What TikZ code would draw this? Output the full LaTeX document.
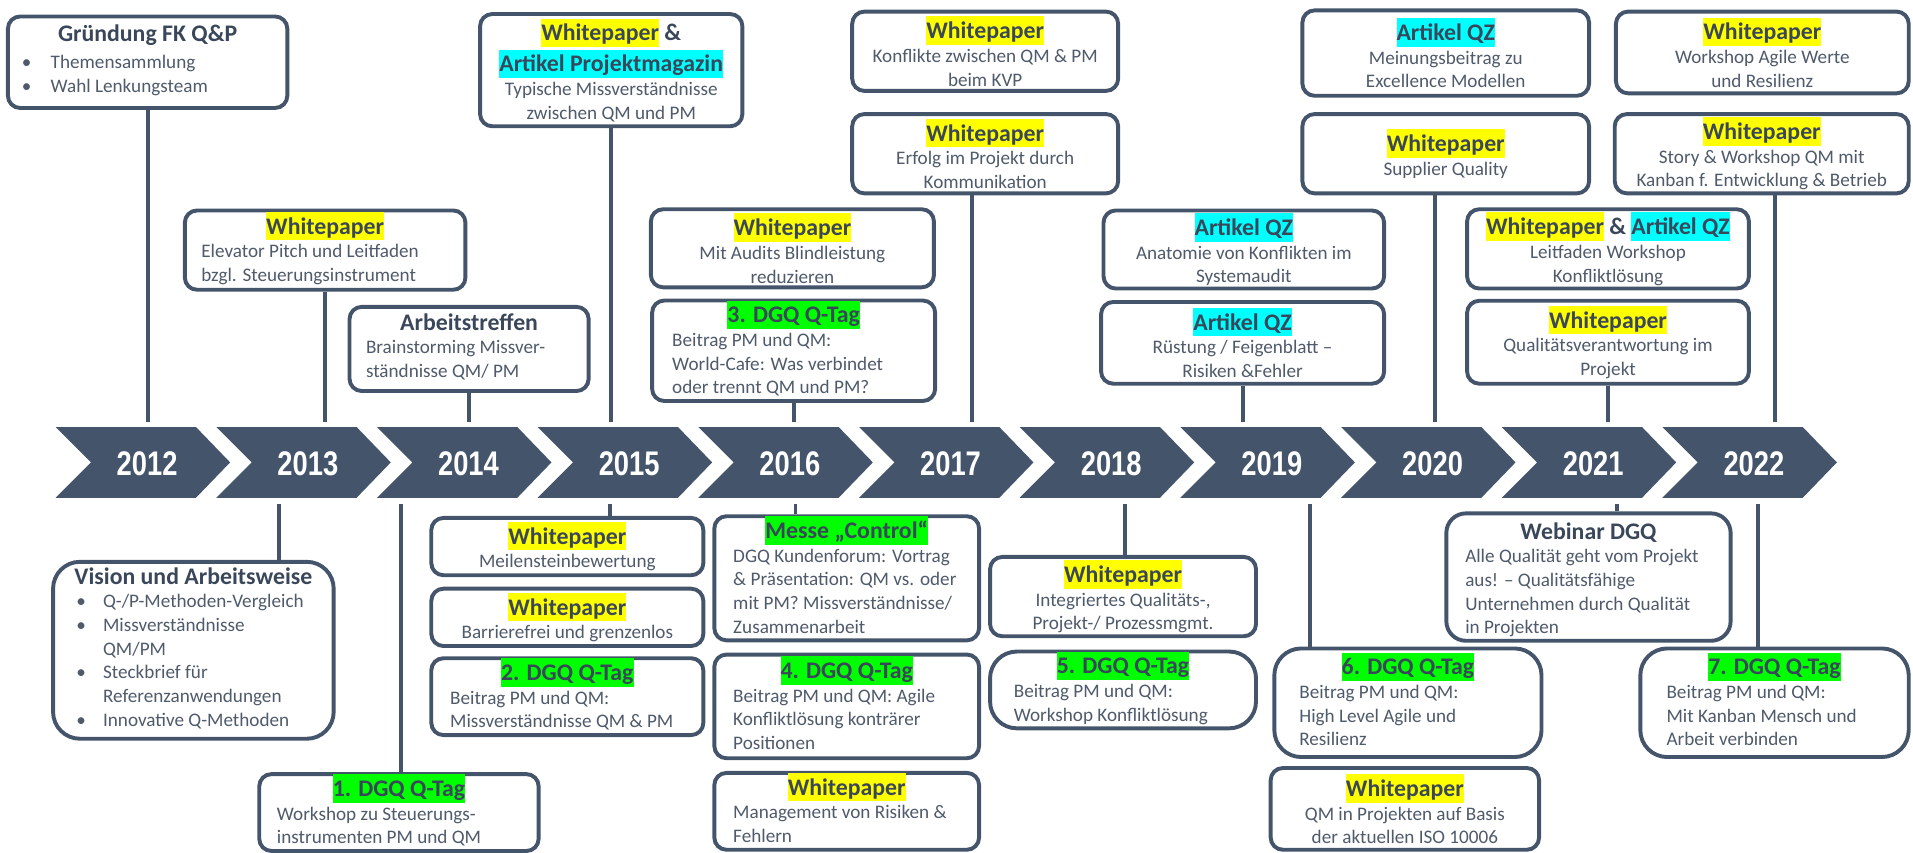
\documentclass[tikz,border=0pt]{standalone}
\usepackage{fontspec}
\usepackage{array}
\setmainfont{Carlito}
\newfontfamily\yearfont[FakeStretch=0.8]{Liberation Sans}
\definecolor{slate}{HTML}{44546A}
\definecolor{headcol}{HTML}{3A475A}
\definecolor{bodycol}{HTML}{4F5A6B}
\definecolor{wpyellow}{HTML}{FFFF00}
\definecolor{qzcyan}{HTML}{00FFFF}
\definecolor{qgreen}{HTML}{00FF00}
\setlength{\fboxsep}{0pt}
\newcommand{\boxhead}[1]{{\fontsize{19.5}{23}\selectfont\bfseries\color{headcol}#1}}
\newcommand{\hilite}[2]{\colorbox{#1}{\rule[-0.26em]{0pt}{1.2em}#2}}
\newcommand{\whp}{\hilite{wpyellow}{Whitepaper}}
\newcommand{\artqz}{\hilite{qzcyan}{Artikel QZ}}
\newcommand{\lft}[2]{\begin{tabular}[t]{@{}w{l}{#1}@{}}#2\end{tabular}}

\begin{document}
\begin{tikzpicture}[x=1pt,y=-1pt,
  box/.style={draw=slate,line width=3.2pt,rounded corners=10pt,fill=white,inner sep=0pt,
    align=center,text=bodycol,font=\fontsize{15.7}{19.4}\selectfont},
  round/.style={rounded corners=22pt},
  conn/.style={draw=slate,line width=3.2pt},
  chev/.style={fill=slate},
  year/.style={text=white,font=\yearfont\bfseries\fontsize{28}{28}\selectfont}]
\useasboundingbox (0,0) rectangle (1568,699);
\coordinate (topline) at (0,346);
\coordinate (botline) at (0,413);

\foreach \yr [count=\i from 0] in {2012,...,2022} {
  \pgfmathsetmacro\L{45.6+131.7*\i}
  \fill[chev] (\L,350) -- (\L+115,350) -- (\L+143,379) -- (\L+115,408) -- (\L,408) -- (\L+29,379) -- cycle;
  \node[year] (y\yr) at (\L+75,380) {\yr};
}

% oben
\node[box,minimum width=229pt,minimum height=75pt] (gruendung) at (121,51)
  {\boxhead{Gründung FK Q\&P}\\[3pt] \begin{tabular}[t]{@{}p{23.6pt}@{}p{182.4pt}@{}}\textbullet & Themensammlung\\ \textbullet & Wahl Lenkungsteam\end{tabular}};
\node[box,minimum width=230pt,minimum height=65pt] (elevator) at (266.5,205)
  {\boxhead{\whp}\\ \lft{203pt}{Elevator Pitch und Leitfaden\\ bzgl. Steuerungsinstrument}};
\node[box,minimum width=196pt,minimum height=69pt] (arbeit) at (384.5,286)
  {\boxhead{Arbeitstreffen}\\ \lft{169pt}{Brainstorming Missver-\\ ständnisse QM/ PM}};
\node[box,minimum width=215pt,minimum height=92pt] (typisch) at (501,57.5)
  {\boxhead{\whp{} \&}\\[1pt] \boxhead{\hilite{qzcyan}{Artikel Projektmagazin}}\\ Typische Missverständnisse\\ zwischen QM und PM};
\node[box,minimum width=232pt,minimum height=64pt] (audits) at (649.5,203.5)
  {\boxhead{\whp}\\ Mit Audits Blindleistung\\ reduzieren};
\node[box,minimum width=232pt,minimum height=80pt] (qtag3) at (650.5,287.5)
  {\boxhead{\hilite{qgreen}{3. DGQ Q-Tag}}\\ \lft{199pt}{Beitrag PM und QM:\\ World-Cafe: Was verbindet\\ oder trennt QM und PM?}};
\node[box,minimum width=218pt,minimum height=65pt] (kvp) at (807.5,42)
  {\boxhead{\whp}\\ Konflikte zwischen QM \& PM\\ beim KVP};
\node[box,minimum width=218pt,minimum height=65pt] (kommunikation) at (807.5,126)
  {\boxhead{\whp}\\ Erfolg im Projekt durch\\ Kommunikation};
\node[box,minimum width=230pt,minimum height=64pt] (anatomie) at (1019.5,204.5)
  {\boxhead{\artqz}\\ Anatomie von Konflikten im\\ Systemaudit};
\node[box,minimum width=232pt,minimum height=67pt] (ruestung) at (1018.5,281)
  {\boxhead{\artqz}\\ Rüstung / Feigenblatt –\\ Risiken \&Fehler};
\node[box,minimum width=235pt,minimum height=70pt] (excellence) at (1185,43.5)
  {\boxhead{\artqz}\\ Meinungsbeitrag zu\\ Excellence Modellen};
\node[box,minimum width=235pt,minimum height=65pt] (supplier) at (1185,126)
  {\boxhead{\whp}\\ Supplier Quality};
\node[box,minimum width=231pt,minimum height=65pt] (leitfaden) at (1318,204)
  {\boxhead{\whp{} \& \artqz}\\ Leitfaden Workshop\\ Konfliktlösung};
\node[box,minimum width=231pt,minimum height=68pt] (verantwortung) at (1318,280.5)
  {\boxhead{\whp}\\ Qualitätsverantwortung im\\ Projekt};
\node[box,minimum width=240pt,minimum height=67pt] (agile) at (1444.5,43)
  {\boxhead{\whp}\\ Workshop Agile Werte\\ und Resilienz};
\node[box,minimum width=241pt,minimum height=65pt] (kanban) at (1444,126)
  {\boxhead{\whp}\\ Story \& Workshop QM mit\\ Kanban f. Entwicklung \& Betrieb};

% unten
\node[box,round,minimum width=230pt,minimum height=145pt] (vision) at (158.5,533)
  {\boxhead{Vision und Arbeitsweise}\\ \begin{tabular}[t]{@{}p{22pt}@{}p{170pt}@{}}\textbullet & Q-/P-Methoden-Vergleich\\ \textbullet & Missverständnisse\\ & QM/PM\\ \textbullet & Steckbrief für\\ & Referenzanwendungen\\ \textbullet & Innovative Q-Methoden\end{tabular}};
\node[box,minimum width=229pt,minimum height=63pt] (qtag1) at (327,666)
  {\boxhead{\hilite{qgreen}{1. DGQ Q-Tag}}\\ \lft{200pt}{Workshop zu Steuerungs-\\ instrumenten PM und QM}};
\node[box,minimum width=223pt,minimum height=47pt] (meilenstein) at (465,448)
  {\boxhead{\whp}\\ Meilensteinbewertung};
\node[box,minimum width=223pt,minimum height=47pt] (barriere) at (465,506)
  {\boxhead{\whp}\\ Barrierefrei und grenzenlos};
\node[box,minimum width=223pt,minimum height=63pt] (qtag2) at (465,571)
  {\boxhead{\hilite{qgreen}{2. DGQ Q-Tag}}\\ \lft{192pt}{Beitrag PM und QM:\\ Missverständnisse QM \& PM}};
\node[box,minimum width=217pt,minimum height=99pt] (messe) at (694,474)
  {\boxhead{\hilite{qgreen}{Messe „Control“}}\\ \lft{186pt}{DGQ Kundenforum: Vortrag\\ \& Präsentation: QM vs. oder\\ mit PM? Missverständnisse/\\ Zusammenarbeit}};
\node[box,minimum width=217pt,minimum height=85pt] (qtag4) at (694,579)
  {\boxhead{\hilite{qgreen}{4. DGQ Q-Tag}}\\ \lft{186pt}{Beitrag PM und QM: Agile\\ Konfliktlösung konträrer\\ Positionen}};
\node[box,minimum width=217pt,minimum height=63pt] (risiken) at (694,665)
  {\boxhead{\whp}\\ \lft{186pt}{Management von Risiken \&\\ Fehlern}};
\node[box,minimum width=218pt,minimum height=65pt] (integriert) at (920.5,489)
  {\boxhead{\whp}\\ Integriertes Qualitäts-,\\ Projekt-/ Prozessmgmt.};
\node[box,round,minimum width=218pt,minimum height=62pt] (qtag5) at (920.5,565.5)
  {\boxhead{\hilite{qgreen}{5. DGQ Q-Tag}}\\ \lft{179pt}{Beitrag PM und QM:\\ Workshop Konfliktlösung}};
\node[box,round,minimum width=219pt,minimum height=89pt] (qtag6) at (1154,576)
  {\boxhead{\hilite{qgreen}{6. DGQ Q-Tag}}\\ \lft{178pt}{Beitrag PM und QM:\\ High Level Agile und\\ Resilienz}};
\node[box,minimum width=220pt,minimum height=67pt] (iso) at (1151.5,663)
  {\boxhead{\whp}\\ QM in Projekten auf Basis\\ der aktuellen ISO 10006};
\node[box,rounded corners=16pt,minimum width=233pt,minimum height=97pt] (webinar) at (1302,473)
  {\boxhead{\rule{0pt}{21pt}Webinar DGQ}\\ \lft{202pt}{Alle Qualität geht vom Projekt\\ aus! – Qualitätsfähige\\ Unternehmen durch Qualität\\ in Projekten}};
\node[box,round,minimum width=220pt,minimum height=89pt] (qtag7) at (1454.5,576)
  {\boxhead{\hilite{qgreen}{7. DGQ Q-Tag}}\\ \lft{177pt}{Beitrag PM und QM:\\ Mit Kanban Mensch und\\ Arbeit verbinden}};

% Verbindungen
\foreach \n in {gruendung,elevator,arbeit,typisch,qtag3,ruestung,verantwortung}
  \draw[conn] (\n.south) -- (\n.south |- topline);
\draw[conn] ([xshift=-10.5pt]kommunikation.south) -- ([xshift=-10.5pt]kommunikation.south |- topline);
\draw[conn] ([xshift=-9pt]supplier.south) -- ([xshift=-9pt]supplier.south |- topline);
\draw[conn] ([xshift=11pt]kanban.south) -- ([xshift=11pt]kanban.south |- topline);
\draw[conn] ([xshift=70.5pt]vision.north) -- ([xshift=70.5pt]vision.north |- botline);
\draw[conn] ([xshift=2pt]qtag1.north) -- ([xshift=2pt]qtag1.north |- botline);
\draw[conn] ([xshift=35pt]meilenstein.north) -- ([xshift=35pt]meilenstein.north |- botline);
\draw[conn] ([xshift=-42pt]messe.north) -- ([xshift=-42pt]messe.north |- botline);
\draw[conn] ([xshift=1.5pt]integriert.north) -- ([xshift=1.5pt]integriert.north |- botline);
\draw[conn] ([xshift=-80pt]qtag6.north) -- ([xshift=-80pt]qtag6.north |- botline);
\draw[conn] ([xshift=23pt]webinar.north) -- ([xshift=23pt]webinar.north |- botline);
\draw[conn] ([xshift=-13.5pt]qtag7.north) -- ([xshift=-13.5pt]qtag7.north |- botline);
\end{tikzpicture}
\end{document}
